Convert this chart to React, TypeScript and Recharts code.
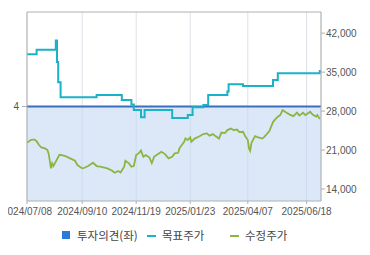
import React from "react";
import {
  ComposedChart,
  Line,
  Area,
  XAxis,
  YAxis,
  CartesianGrid,
  ReferenceLine,
} from "recharts";

// x = trading-day index from 2024/07/08
const tickIdx = [0, 46, 91, 136, 184, 233];
const tickLabels = [
  "2024/07/08",
  "2024/09/10",
  "2024/11/19",
  "2025/01/23",
  "2025/04/07",
  "2025/06/18",
];

const opinionIdx = [0, 245];
const opinionVal = [4, 4];

const targetIdx = [0, 8, 24, 25, 26, 28, 58, 79, 87, 89, 95, 98, 121, 134, 138, 147, 151, 167, 168, 180, 205, 209, 244, 245];
const targetVal = [38200, 39000, 40700, 36800, 33200, 30500, 30900, 30000, 29200, 28200, 26900, 28200, 26750, 27300, 28700, 29100, 30900, 31500, 32800, 32500, 33600, 34800, 35200, 35200];

const priceIdx = [
  0, 3, 6, 8, 10, 12, 15, 17, 18, 20, 21, 22, 25, 27, 29, 32, 36, 40, 42, 46,
  48, 51, 55, 58, 62, 67, 71, 73, 76, 78, 81, 82, 85, 87, 89, 91, 93, 95, 97, 99,
  102, 104, 106, 108, 112, 115, 118, 121, 123, 126, 127, 129, 131, 132, 134, 136, 137, 140, 143, 147,
  150, 152, 155, 157, 160, 162, 165, 167, 170, 172, 175, 177, 180, 182, 184, 185, 186, 187, 190, 192,
  196, 198, 202, 205, 207, 209, 211, 213, 216, 219, 222, 225, 227, 230, 232, 236, 238, 241, 242, 244,
];
const priceVal = [
  22310, 22800, 22920, 22600, 21900, 21480, 21300, 21000, 20400, 17710, 18610, 18130, 19330, 20160, 20100, 19920, 19510, 19080, 18310, 17710,
  17820, 18130, 18720, 18130, 18000, 17710, 17280, 16920, 17230, 16960, 18000, 19080, 18610, 18000, 18130, 20100, 20400, 20910, 19800, 20100,
  19650, 18670, 19830, 20100, 20690, 20280, 19510, 19800, 20400, 20510, 21300, 21900, 22490, 23100, 22800, 23280, 22490, 23100, 23390, 23870,
  24000, 23600, 23870, 23510, 23060, 24140, 24050, 24590, 24860, 24590, 24680, 24230, 24280, 23420, 22800, 21300, 20870, 22260, 23510, 23330,
  23060, 23420, 24410, 26030, 26560, 26980, 27280, 28180, 27730, 27370, 27100, 27730, 27190, 27700, 27280, 27870, 27370, 27010, 27280, 26560,
];

const opinionData = opinionIdx.map((i, k) => ({ i, v: opinionVal[k] }));
const targetData = targetIdx.map((i, k) => ({ i, v: targetVal[k] }));
const priceData = priceIdx.map((i, k) => ({ i, v: priceVal[k] }));

const priceTicks = [14000, 21000, 28000, 35000, 42000];

const tickStyle = { fontSize: 10, fill: "#555", fontFamily: "Liberation Sans, Arial, sans-serif" };
const legendFont = { fontSize: 11.5, color: "#444", fontFamily: "Noto Sans CJK KR, sans-serif" };

export default function App() {
  return (
    <div style={{ position: "relative", width: 362, height: 247 }}>
      <ComposedChart
        width={362}
        height={220}
        margin={{ top: 4, right: 0, bottom: 0, left: 0 }}
      >
        <CartesianGrid horizontal={false} stroke="#dde1e6" />
        <XAxis
          dataKey="i"
          type="number"
          domain={[0, 245]}
          ticks={tickIdx}
          tickFormatter={(v) => tickLabels[tickIdx.indexOf(v)] ?? ""}
          tick={tickStyle}
          stroke="#b0b0b0"
          tickSize={3}
          tickMargin={4}
          height={27}
          interval={0}
          allowDataOverflow
        />
        <YAxis
          yAxisId="left"
          domain={[3, 5]}
          ticks={[4]}
          tick={tickStyle}
          stroke="#b0b0b0"
          width={19}
          tickSize={5}
          tickMargin={3}
        />
        <YAxis
          yAxisId="right"
          orientation="right"
          domain={[11850, 45800]}
          ticks={priceTicks}
          tickFormatter={(v) => v.toLocaleString("en-US")}
          tick={tickStyle}
          stroke="#b0b0b0"
          width={49}
          tickSize={4}
          tickMargin={1}
          allowDataOverflow
        />
        <ReferenceLine yAxisId="right" y={45800} stroke="#b0b0b0" />
        <Area
          yAxisId="left"
          data={opinionData}
          dataKey="v"
          type="linear"
          stroke="#3a6fc0"
          strokeWidth={2}
          fill="#c0d6f2"
          fillOpacity={0.55}
          isAnimationActive={false}
          dot={false}
        />
        <Line
          yAxisId="right"
          data={priceData}
          dataKey="v"
          type="linear"
          stroke="#8cb543"
          strokeWidth={1.8}
          dot={false}
          isAnimationActive={false}
        />
        <Line
          yAxisId="right"
          data={targetData}
          dataKey="v"
          type="stepAfter"
          stroke="#1ab2c6"
          strokeWidth={2}
          dot={false}
          isAnimationActive={false}
        />
      </ComposedChart>
      <div style={{ position: "absolute", left: 54, top: 223, width: 8, height: 8, background: "#2b7bd8" }} />
      <div style={{ ...legendFont, position: "absolute", left: 69, top: 219, lineHeight: "16px" }}>투자의견(좌)</div>
      <div style={{ position: "absolute", left: 139, top: 227, width: 9, height: 2, background: "#1ab2c6" }} />
      <div style={{ ...legendFont, position: "absolute", left: 154, top: 219, lineHeight: "16px" }}>목표주가</div>
      <div style={{ position: "absolute", left: 222, top: 227, width: 9, height: 2, background: "#8cb543" }} />
      <div style={{ ...legendFont, position: "absolute", left: 237, top: 219, lineHeight: "16px" }}>수정주가</div>
    </div>
  );
}
